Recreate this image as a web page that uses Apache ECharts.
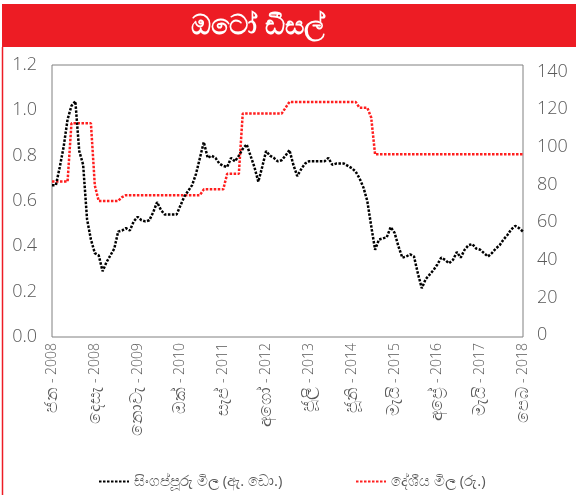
<!DOCTYPE html>
<html>
<head>
<meta charset="utf-8">
<script src="https://cdn.jsdelivr.net/npm/echarts@6/dist/echarts.min.js"></script>
<style>html,body{margin:0;padding:0;background:#fff;}#c{width:576px;height:495px;}</style>
</head>
<body>
<div id="c"></div>
<script>
const titleText = 'ඔටෝ ඩීසල්';
const seriesNames = ['සිංගප්පූරු මිල (ඇ. ඩො.)', 'දේශීය මිල (රු.)'];
// monthly categories, Jan 2008 .. Feb 2018
const categories = [];
for (let i = 0; i < 122; i++) categories.push((2008 + Math.floor(i / 12)) + '-' + ((i % 12) + 1));
const tickMonths = ['ජන','දෙසැ','නොවැ','ඔක්','සැප්','අගෝ','ජූලි','ජූනි','මැයි','අප්‍රේ','මැයි','පෙබ'];
const tickYears = ['2008','2008','2009','2010','2011','2012','2013','2014','2015','2016','2017','2018'];
const leftTicks = [0, 0.2, 0.4, 0.6, 0.8, 1.0, 1.2];
const rightTicks = [0, 20, 40, 60, 80, 100, 120, 140];
const singaporePrice = [
 0.67,0.67,0.75,0.84,0.96,1.02,1.04,0.82,0.76,0.52,
 0.43,0.37,0.36,0.29,0.33,0.36,0.39,0.465,0.47,0.48,
 0.47,0.51,0.53,0.515,0.51,0.515,0.55,0.595,0.56,0.54,
 0.54,0.54,0.54,0.58,0.62,0.645,0.67,0.72,0.79,0.86,
 0.79,0.80,0.79,0.765,0.755,0.75,0.79,0.775,0.80,0.83,
 0.85,0.80,0.75,0.685,0.75,0.82,0.80,0.79,0.775,0.78,
 0.80,0.825,0.76,0.71,0.74,0.765,0.775,0.775,0.775,0.775,
 0.775,0.79,0.76,0.765,0.765,0.765,0.755,0.745,0.73,0.70,
 0.66,0.60,0.49,0.385,0.43,0.435,0.44,0.485,0.46,0.40,
 0.35,0.355,0.365,0.355,0.28,0.215,0.255,0.275,0.295,0.32,
 0.35,0.34,0.325,0.34,0.375,0.35,0.385,0.405,0.41,0.39,
 0.385,0.37,0.355,0.37,0.39,0.405,0.43,0.45,0.475,0.49,
 0.48,0.465
];
const localPrice = [
 80,80,80,80,80,110,110,110,110,110,
 110,78,70,70,70,70,70,70,72,73,
 73,73,73,73,73,73,73,73,73,73,
 73,73,73,73,73,73,73,73,73,76,
 76,76,76,76,76,84,84,84,84,115,
 115,115,115,115,115,115,115,115,115,115,
 118,121,121,121,121,121,121,121,121,121,
 121,121,121,121,121,121,121,121,121,118,
 118,118,113,94,94,94,94,94,94,94,
 94,94,94,94,94,94,94,94,94,94,
 94,94,94,94,94,94,94,94,94,94,
 94,94,94,94,94,94,94,94,94,94,
 94,94
];

const gray = '#595959';
const font = "'Open Sans', 'Noto Sans', sans-serif";
const chart = echarts.init(document.getElementById('c'), null, {renderer: 'canvas'});
chart.setOption({
  animation: false,
  backgroundColor: '#fff',
  graphic: [
    {type: 'rect', shape: {x: 2, y: 4, width: 574, height: 43}, style: {fill: '#ED1C24'}, silent: true},
    {type: 'line', shape: {x1: 2.5, y1: 47, x2: 2.5, y2: 495}, style: {stroke: '#ED1C24', lineWidth: 1.5}, silent: true},
    {type: 'text', x: 258, y: 26, style: {text: titleText, fill: '#fff', font: "bold 27px 'Noto Sans', sans-serif", textAlign: 'center', textVerticalAlign: 'middle'}, silent: true}
  ],
  grid: {left: 52, right: 53, top: 65, bottom: 158, show: true, borderColor: '#808080', borderWidth: 1},
  legend: [
    {left: 93, top: 469, itemWidth: 30, itemHeight: 12, itemGap: 10, data: [seriesNames[0]], itemStyle: {opacity: 0},
     textStyle: {color: gray, fontSize: 15, fontFamily: font}},
    {left: 350, top: 469, itemWidth: 30, itemHeight: 12, itemGap: 10, data: [seriesNames[1]], itemStyle: {opacity: 0},
     textStyle: {color: gray, fontSize: 15, fontFamily: font}}
  ],
  xAxis: {
    type: 'category', data: categories, boundaryGap: false,
    axisLine: {show: false}, axisTick: {show: false}, splitLine: {show: false},
    axisLabel: {
      interval: 10, rotate: 90, color: gray, fontSize: 14, fontFamily: font, margin: 6, fontWeight: 300,
      formatter: function (v, idx) {
        const k = Math.round(idx / 11);
        return tickMonths[k] ? '{m|' + tickMonths[k] + '} - ' + tickYears[k] : '';
      },
      rich: {m: {fontSize: 17, color: gray, fontFamily: font}}
    }
  },
  yAxis: [
    {type: 'value', min: 0, max: 1.2, interval: 0.2, position: 'left',
     axisLine: {show: false}, axisTick: {show: false}, splitLine: {show: false},
     axisLabel: {color: gray, fontSize: 18, fontWeight: 300, fontFamily: font, margin: 15, customValues: leftTicks, formatter: function (v) { return v.toFixed(1); }}},
    {type: 'value', min: 0, max: 140, position: 'right',
     axisLine: {show: false}, axisTick: {show: false}, splitLine: {show: false}, axisLabel: {show: false}},
    {type: 'value', min: -1.06, max: 143.56, position: 'right',
     axisLine: {show: false}, axisTick: {show: false}, splitLine: {show: false},
     axisLabel: {color: gray, fontSize: 18, fontWeight: 300, fontFamily: font, margin: 14, customValues: rightTicks}}
  ],
  series: [
    {name: seriesNames[0], type: 'line', data: singaporePrice, yAxisIndex: 0, showSymbol: false, symbol: 'none',
     lineStyle: {color: '#000', width: 2.5, type: [2.5, 1.5]}, itemStyle: {color: '#000'}, z: 3},
    {name: seriesNames[1], type: 'line', data: localPrice, yAxisIndex: 1, showSymbol: false, symbol: 'none',
     lineStyle: {color: '#FF1F1F', width: 2.5, type: [2.5, 1.5]}, itemStyle: {color: '#FF1F1F'}, z: 2}
  ]
});
</script>
</body>
</html>
